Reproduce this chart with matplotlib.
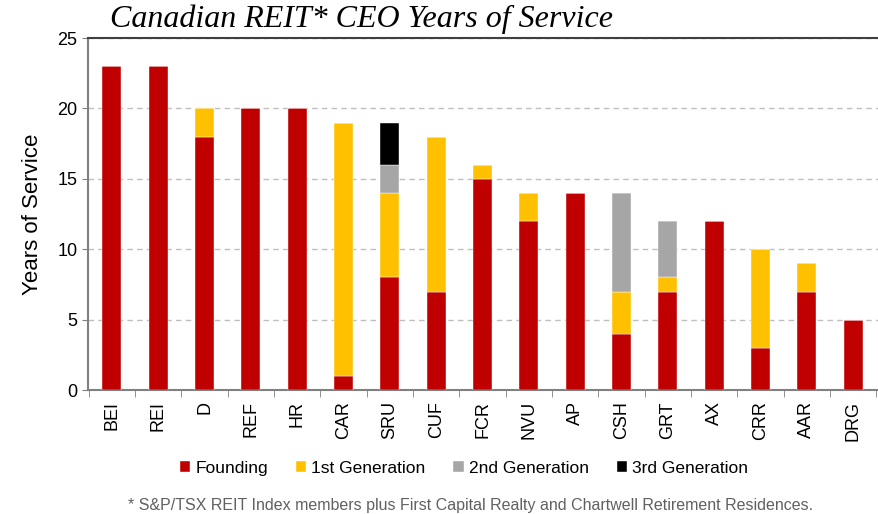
import numpy as np
import matplotlib.pyplot as plt

tickers = ['BEI', 'REI', 'D', 'REF', 'HR', 'CAR', 'SRU', 'CUF', 'FCR',
           'NVU', 'AP', 'CSH', 'GRT', 'AX', 'CRR', 'AAR', 'DRG']
founding = [23, 23, 18, 20, 20, 1, 8, 7, 15, 12, 14, 4, 7, 12, 3, 7, 5]
gen1 = [0, 0, 2, 0, 0, 18, 6, 11, 1, 2, 0, 3, 1, 0, 7, 2, 0]
gen2 = [0, 0, 0, 0, 0, 0, 2, 0, 0, 0, 0, 7, 4, 0, 0, 0, 0]
gen3 = [0, 0, 0, 0, 0, 0, 3, 0, 0, 0, 0, 0, 0, 0, 0, 0, 0]

series = [('Founding', founding, '#C00000'),
          ('1st Generation', gen1, '#FFC000'),
          ('2nd Generation', gen2, '#A6A6A6'),
          ('3rd Generation', gen3, '#000000')]

sans = ['Liberation Sans', 'DejaVu Sans']

fig = plt.figure(figsize=(8.79, 5.14), dpi=100)
ax = fig.add_axes([0.1, 0.241, 0.9, 0.685])

x = np.arange(len(tickers))
bottom = np.zeros(len(tickers))
for name, vals, color in series:
    vals = np.array(vals, dtype=float)
    ax.bar(x, vals, 0.41, bottom=bottom, color=color, label=name,
           edgecolor='white', linewidth=0.3, zorder=3)
    bottom += vals

ax.set_xlim(-0.52, len(tickers) - 0.44)
ax.set_ylim(0, 25)
ax.set_yticks(range(0, 26, 5))
ax.yaxis.grid(True, linestyle=(0, (4, 3)), color='#BFBFBF', linewidth=1, zorder=0)

ax.set_xticks(x)
ax.set_xticklabels(tickers, rotation=90, family=sans, fontsize=13)
ax.tick_params(axis='x', length=0, pad=8)
ax.set_xticks(np.arange(-0.5, len(tickers), 1), minor=True)
ax.tick_params(axis='x', which='minor', length=5, color='#808080', direction='out')
ax.tick_params(axis='y', length=4, color='#808080', labelsize=13)
for lab in ax.get_yticklabels():
    lab.set_family(sans)

for s in ['left', 'bottom']:
    ax.spines[s].set_color('#808080')
    ax.spines[s].set_linewidth(1.5)
ax.spines['right'].set_visible(False)
ax.spines['top'].set_color('#404040')
ax.spines['top'].set_linewidth(1.5)

ax.set_ylabel('Years of Service', family=sans, fontsize=16, labelpad=10)

fig.text(0.125, 0.962, 'Canadian REIT* CEO Years of Service', family='Liberation Serif',
         style='italic', fontsize=23, va='center', ha='left')

fig.legend(loc='center', bbox_to_anchor=(0.528, 0.089), ncol=4, frameon=False,
           prop={'family': sans, 'size': 12.5}, handlelength=0.6, handleheight=0.6,
           handletextpad=0.3, columnspacing=1.6)

fig.text(0.535, 0.017, '* S&P/TSX REIT Index members plus First Capital Realty and Chartwell Retirement Residences.',
         family=sans, fontsize=11.5, color='#606060', ha='center', va='center')

fig.savefig('out.png', dpi=100)
